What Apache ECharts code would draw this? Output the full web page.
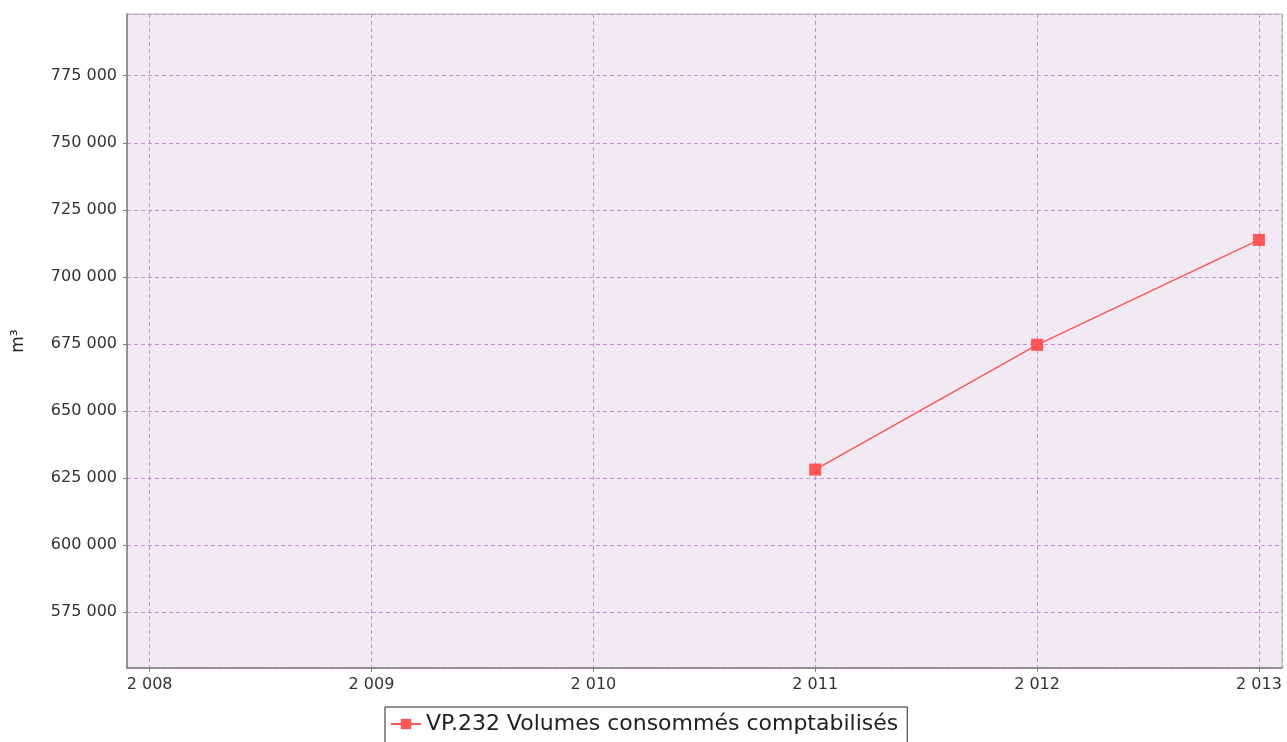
<!DOCTYPE html>
<html>
<head>
<meta charset="utf-8">
<script src="https://cdn.jsdelivr.net/npm/echarts@6/dist/echarts.min.js"></script>
<style>
  html, body { margin: 0; padding: 0; background: #fff; }
  #chart { width: 1287px; height: 742px; }
</style>
</head>
<body>
<div id="chart"></div>
<script>
// data
var years = [2011, 2012, 2013]
var volumes = [628200, 674700, 713800]
var seriesName = 'VP.232 Volumes consommés comptabilisés'
var yUnit = 'm³'

function spaced(v) {
  return String(Math.round(v)).replace(/\B(?=(\d{3})+(?!\d))/g, ' ')
}

var chart = echarts.init(document.getElementById('chart'))

chart.setOption({
  backgroundColor: '#ffffff',
  animation: false,
  textStyle: { fontFamily: 'DejaVu Sans' },
  grid: {
    left: 127,
    right: 5,
    top: 14,
    bottom: 74,
    show: true,
    backgroundColor: '#f2eaf2',
    borderColor: '#b8b8b8',
    borderWidth: 1
  },
  legend: {
    data: [seriesName],
    left: 385,
    top: 707,
    padding: [6, 9, 12, 5],
    borderColor: '#222',
    borderWidth: 1,
    itemWidth: 30,
    itemHeight: 13,
    itemGap: 4,
    textStyle: { fontSize: 22, color: '#222', fontFamily: 'DejaVu Sans' }
  },
  xAxis: {
    type: 'value',
    min: 2007.898,
    max: 2013.104,
    minInterval: 1,
    maxInterval: 1,
    axisLine: { lineStyle: { color: '#808080', width: 1.5 } },
    axisTick: { show: true, length: 4, lineStyle: { color: '#808080' } },
    axisLabel: {
      showMinLabel: false,
      showMaxLabel: false,
      margin: 9,
      fontSize: 16,
      color: '#333',
      formatter: spaced
    },
    splitLine: { show: true, lineStyle: { color: '#c293cb', type: [4, 3], width: 1 } }
  },
  yAxis: {
    type: 'value',
    min: 554240,
    max: 798000,
    minInterval: 25000,
    maxInterval: 25000,
    name: yUnit,
    nameLocation: 'middle',
    nameRotate: 90,
    nameGap: 100,
    nameTextStyle: { fontSize: 17, color: '#222' },
    axisLine: { show: true, lineStyle: { color: '#808080', width: 1.5 } },
    axisTick: { show: true, length: 4, lineStyle: { color: '#808080' } },
    axisLabel: {
      showMinLabel: false,
      showMaxLabel: false,
      margin: 10,
      fontSize: 16,
      color: '#333',
      formatter: spaced
    },
    splitLine: { show: true, lineStyle: { color: '#c293cb', type: [4, 3], width: 1 } }
  },
  series: [{
    name: seriesName,
    type: 'line',
    data: years.map(function (y, i) { return [y, volumes[i]] }),
    symbol: 'rect',
    symbolSize: 12,
    lineStyle: { color: '#ff5555', width: 1.5 },
    itemStyle: { color: '#ff5555' }
  }]
})
</script>
</body>
</html>
